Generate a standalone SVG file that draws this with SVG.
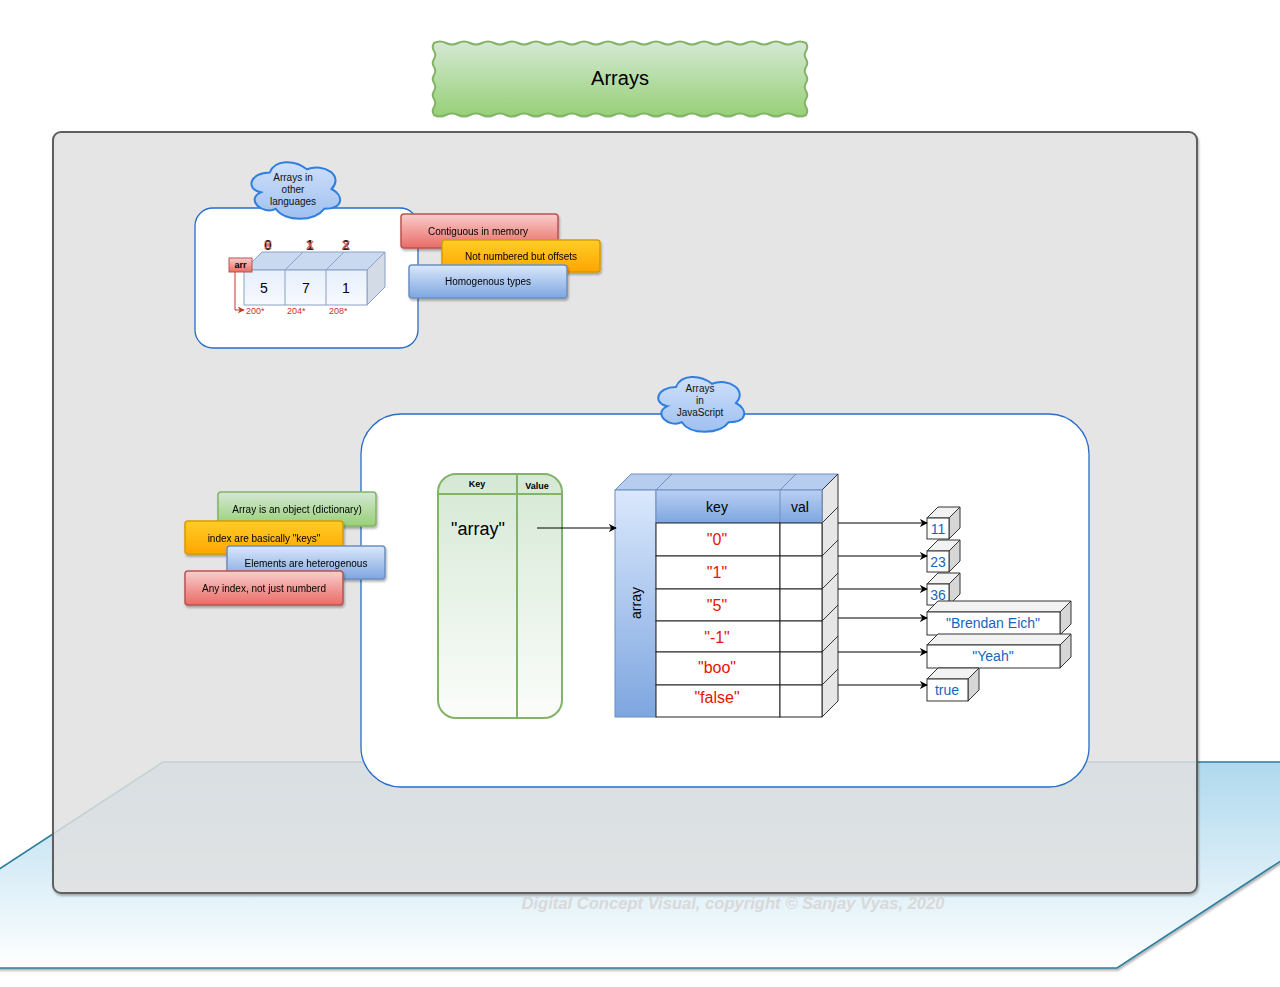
<svg xmlns="http://www.w3.org/2000/svg" xmlns:xlink="http://www.w3.org/1999/xlink" width="1280" height="987" viewBox="0 0 1280 987">
<style>
text{font-family:"Liberation Sans",Arial,sans-serif}
.lbl{font-size:10px;text-anchor:middle;fill:#000}
.cl{font-size:10px;text-anchor:middle;fill:#111}
.rk{font-size:16px;fill:#e51400;text-anchor:middle}
.bv{font-size:14px;fill:#1565c0;text-anchor:middle}
.off{font-size:9px;fill:#d0302c}
.row{fill:#fff;stroke:#222;stroke-width:1}
.vf{fill:#fff;stroke:#333;stroke-width:1}
.vt{fill:#f2f2f2;stroke:#333;stroke-width:1}
.vs{fill:#d6d6d6;stroke:#333;stroke-width:1}
.conn{stroke:#000;stroke-width:1;fill:none}
</style>
<defs>
<linearGradient id="gPar" x1="0" y1="0" x2="0" y2="1"><stop offset="0" stop-color="#aed9ee"/><stop offset="1" stop-color="#ffffff"/></linearGradient>
<linearGradient id="gGreen" x1="0" y1="0" x2="0" y2="1"><stop offset="0" stop-color="#d5e8d4"/><stop offset="1" stop-color="#97d077"/></linearGradient>
<linearGradient id="gGreenW" x1="0" y1="0" x2="0" y2="1"><stop offset="0" stop-color="#d5e8d4"/><stop offset="1" stop-color="#fbfdfb"/></linearGradient>
<linearGradient id="gRed" x1="0" y1="0" x2="0" y2="1"><stop offset="0" stop-color="#f8cecc"/><stop offset="1" stop-color="#ea6b66"/></linearGradient>
<linearGradient id="gOrange" x1="0" y1="0" x2="0" y2="1"><stop offset="0" stop-color="#ffcd28"/><stop offset="1" stop-color="#ffa500"/></linearGradient>
<linearGradient id="gBlue" x1="0" y1="0" x2="0" y2="1"><stop offset="0" stop-color="#dae8fc"/><stop offset="1" stop-color="#7ea6e0"/></linearGradient>
<linearGradient id="gCloud" x1="0" y1="0" x2="0" y2="1"><stop offset="0" stop-color="#cfe0fa"/><stop offset="1" stop-color="#9fc0f0"/></linearGradient>
<linearGradient id="gCube" x1="0" y1="0" x2="0" y2="1"><stop offset="0" stop-color="#e6effc"/><stop offset="1" stop-color="#f7faff"/></linearGradient>
<linearGradient id="gHead" x1="0" y1="0" x2="0" y2="1"><stop offset="0" stop-color="#b9cff2"/><stop offset="1" stop-color="#7ea6e0"/></linearGradient>
<filter id="sh" x="-10%" y="-10%" width="130%" height="140%"><feDropShadow dx="1" dy="2" stdDeviation="1.2" flood-color="#000" flood-opacity="0.3"/></filter>
<marker id="arB" viewBox="0 0 10 10" refX="9" refY="5" markerWidth="8" markerHeight="8" orient="auto" markerUnits="userSpaceOnUse"><path d="M0,0 L10,5 L0,10 L3,5 Z" fill="#000"/></marker>
<marker id="arR" viewBox="0 0 10 10" refX="9" refY="5" markerWidth="7" markerHeight="7" orient="auto" markerUnits="userSpaceOnUse"><path d="M0,0 L10,5 L0,10 L3,5 Z" fill="#c0392b"/></marker>
<path id="cloud" d="M0.25,0.25 C0.05,0.25 0,0.5 0.16,0.55 C0,0.66 0.18,0.9 0.31,0.8 C0.4,1 0.7,1 0.8,0.8 C1,0.8 1,0.6 0.875,0.5 C1,0.3 0.8,0.1 0.625,0.2 C0.5,0.05 0.3,0.05 0.25,0.25 Z" fill="url(#gCloud)" stroke="#2f7fe0" stroke-width="2" vector-effect="non-scaling-stroke"/>
</defs>

<!-- floor parallelogram -->
<g id="floor">
<polygon points="163,762 1432,762 1117,968 -152,968" fill="url(#gPar)" stroke="#2d7ea0" stroke-width="1.5" filter="url(#sh)"/>
</g>

<!-- main panel -->
<g id="panel">
<rect x="53" y="132" width="1144" height="761" rx="8" fill="#e6e6e6" fill-opacity="0.8" stroke="#5f5f5f" stroke-width="2" filter="url(#sh)"/>
</g>

<!-- title -->
<g id="title">
<path d="M434,43 q6,-3 12,0 t12,0 t12,0 t12,0 t12,0 t12,0 t12,0 t12,0 t12,0 t12,0 t12,0 t12,0 t12,0 t12,0 t12,0 t12,0 t12,0 t12,0 t12,0 t12,0 t12,0 t12,0 t12,0 t12,0 t12,0 t12,0 t12,0 t12,0 t12,0 t12,0 t12,0 q2.5,4 0,8 t0,8 t0,8 t0,8 t0,8 t0,8 t0,8 t0,8 t0,8 q-6,3 -12,0 t-12,0 t-12,0 t-12,0 t-12,0 t-12,0 t-12,0 t-12,0 t-12,0 t-12,0 t-12,0 t-12,0 t-12,0 t-12,0 t-12,0 t-12,0 t-12,0 t-12,0 t-12,0 t-12,0 t-12,0 t-12,0 t-12,0 t-12,0 t-12,0 t-12,0 t-12,0 t-12,0 t-12,0 t-12,0 t-12,0 q-2.5,-4 0,-8 t0,-8 t0,-8 t0,-8 t0,-8 t0,-8 t0,-8 t0,-8 t0,-8 Z" fill="url(#gGreen)" stroke="#82b366" stroke-width="2"/>
<text x="620" y="85" font-size="20" text-anchor="middle" style="fill:#000">Arrays</text>
</g>

<!-- other languages box -->
<g id="other-box">
<rect x="195" y="208" width="223" height="140" rx="18" fill="#fff" stroke="#2a6cc8" stroke-width="1.3"/>
</g>
<g id="cloud-other">
<use xlink:href="#cloud" href="#cloud" transform="translate(245,156) scale(99,66)"/>
<text class="cl" x="293" y="181">Arrays in</text>
<text class="cl" x="293" y="193">other</text>
<text class="cl" x="293" y="205">languages</text>
</g>

<!-- array cube -->
<g id="array-cube">
<polygon points="244,270 262,252 385,252 367,270" fill="#c9d9ef" stroke="#8aa0c4" stroke-width="1"/>
<polygon points="367,270 385,252 385,287 367,305" fill="#d3dbe7" stroke="#8aa0c4" stroke-width="1"/>
<rect x="244" y="270" width="123" height="35" fill="url(#gCube)" stroke="#8aa0c4" stroke-width="1"/>
<line x1="285" y1="270" x2="285" y2="305" stroke="#8aa0c4"/>
<line x1="326" y1="270" x2="326" y2="305" stroke="#8aa0c4"/>
<line x1="285" y1="270" x2="303" y2="252" stroke="#8aa0c4"/>
<line x1="326" y1="270" x2="344" y2="252" stroke="#8aa0c4"/>
<text x="264" y="293" font-size="14" text-anchor="middle" style="fill:#000">5</text>
<text x="306" y="293" font-size="14" text-anchor="middle" style="fill:#000">7</text>
<text x="346" y="293" font-size="14" text-anchor="middle" style="fill:#000">1</text>
<text x="268" y="250" font-size="14" font-weight="bold" text-anchor="middle" style="fill:#222">0</text>
<text x="310" y="250" font-size="14" font-weight="bold" text-anchor="middle" style="fill:#222">1</text>
<text x="346" y="250" font-size="14" font-weight="bold" text-anchor="middle" style="fill:#222">2</text>
<g stroke="#e0605a" stroke-width="1.6" opacity="0.85">
<line x1="265" y1="241" x2="271" y2="249"/><line x1="271" y1="241" x2="265" y2="249"/>
<line x1="307" y1="241" x2="313" y2="249"/><line x1="313" y1="241" x2="307" y2="249"/>
<line x1="343" y1="241" x2="349" y2="249"/><line x1="349" y1="241" x2="343" y2="249"/>
</g>
<text class="off" x="246" y="314">200*</text>
<text class="off" x="287" y="314">204*</text>
<text class="off" x="329" y="314">208*</text>
</g>
<g id="arr-label">
<rect x="229" y="258" width="23" height="14" fill="url(#gRed)" stroke="#b85450" stroke-width="1"/>
<text x="240.5" y="268" font-size="9" font-weight="bold" text-anchor="middle" style="fill:#000">arr</text>
</g>

<!-- labels top -->
<g id="lbl-contiguous" filter="url(#sh)">
<rect x="401" y="214" width="157" height="34" rx="3" fill="url(#gRed)" stroke="#b85450" stroke-width="1.5"/>
<text class="lbl" x="478" y="235">Contiguous in memory</text>
</g>
<g id="lbl-offsets" filter="url(#sh)">
<rect x="442" y="240" width="158" height="32" rx="3" fill="url(#gOrange)" stroke="#d79b00" stroke-width="1.5"/>
<text class="lbl" x="521" y="260">Not numbered but offsets</text>
</g>
<g id="lbl-homogenous" filter="url(#sh)">
<rect x="409" y="265" width="158" height="33" rx="3" fill="url(#gBlue)" stroke="#6c8ebf" stroke-width="1.5"/>
<text class="lbl" x="488" y="285">Homogenous types</text>
</g>

<!-- JS box -->
<g id="js-box">
<rect x="361" y="414" width="728" height="373" rx="40" fill="#fff" stroke="#2a6cc8" stroke-width="1.3"/>
</g>
<g id="cloud-js">
<use xlink:href="#cloud" href="#cloud" transform="translate(652,371) scale(96,64)"/>
<text class="cl" x="700" y="392">Arrays</text>
<text class="cl" x="700" y="404">in</text>
<text class="cl" x="700" y="416">JavaScript</text>
</g>

<!-- left labels -->
<g id="lbl-object" filter="url(#sh)">
<rect x="218" y="492" width="158" height="34" rx="3" fill="url(#gGreen)" stroke="#82b366" stroke-width="1.5"/>
<text class="lbl" x="297" y="513">Array is an object (dictionary)</text>
</g>
<g id="lbl-keys" filter="url(#sh)">
<rect x="185" y="521" width="158" height="33" rx="3" fill="url(#gOrange)" stroke="#d79b00" stroke-width="1.5"/>
<text class="lbl" x="264" y="542">index are basically "keys"</text>
</g>
<g id="lbl-hetero" filter="url(#sh)">
<rect x="227" y="546" width="158" height="33" rx="3" fill="url(#gBlue)" stroke="#6c8ebf" stroke-width="1.5"/>
<text class="lbl" x="306" y="567">Elements are heterogenous</text>
</g>
<g id="lbl-anyindex" filter="url(#sh)">
<rect x="185" y="571" width="158" height="34" rx="3" fill="url(#gRed)" stroke="#b85450" stroke-width="1.5"/>
<text class="lbl" x="264" y="592">Any index, not just numberd</text>
</g>

<!-- key/value table -->
<g id="kv-table">
<rect x="438" y="474" width="124" height="244" rx="18" fill="url(#gGreenW)" stroke="#82b366" stroke-width="2"/>
<line x1="438" y1="494" x2="562" y2="494" stroke="#82b366" stroke-width="2"/>
<line x1="517" y1="474" x2="517" y2="718" stroke="#82b366" stroke-width="2"/>
<text x="477" y="487" font-size="9" font-weight="bold" text-anchor="middle" style="fill:#000">Key</text>
<text x="537" y="489" font-size="9" font-weight="bold" text-anchor="middle" style="fill:#000">Value</text>
<text x="478" y="535" font-size="18" text-anchor="middle" style="fill:#000">"array"</text>
</g>

<!-- JS array table -->
<g id="js-array">
<polygon points="615,490 631,474 838,474 822,490" fill="#b7cdef" stroke="#6c8ebf" stroke-width="1"/>
<line x1="656" y1="490" x2="672" y2="474" stroke="#6c8ebf"/>
<line x1="780" y1="490" x2="796" y2="474" stroke="#6c8ebf"/>
<polygon points="822,490 838,474 838,701 822,717" fill="#e6e6e6" stroke="#333" stroke-width="1"/>
<g stroke="#333" stroke-width="1">
<line x1="822" y1="523" x2="838" y2="507"/>
<line x1="822" y1="556" x2="838" y2="540"/>
<line x1="822" y1="589" x2="838" y2="573"/>
<line x1="822" y1="621" x2="838" y2="605"/>
<line x1="822" y1="652" x2="838" y2="636"/>
<line x1="822" y1="685" x2="838" y2="669"/>
</g>
<rect x="615" y="490" width="41" height="227" fill="url(#gBlue)" stroke="#6c8ebf" stroke-width="1"/>
<text x="641" y="603" font-size="14" text-anchor="middle" transform="rotate(-90 641 603)" style="fill:#000">array</text>
<rect x="656" y="490" width="166" height="33" fill="url(#gHead)" stroke="#6c8ebf" stroke-width="1"/>
<line x1="780" y1="490" x2="780" y2="523" stroke="#6c8ebf"/>
<text x="717" y="512" font-size="14" text-anchor="middle" style="fill:#000">key</text>
<text x="800" y="512" font-size="14" text-anchor="middle" style="fill:#000">val</text>
<rect class="row" x="656" y="523" width="124" height="33"/><rect class="row" x="780" y="523" width="42" height="33"/>
<rect class="row" x="656" y="556" width="124" height="33"/><rect class="row" x="780" y="556" width="42" height="33"/>
<rect class="row" x="656" y="589" width="124" height="32"/><rect class="row" x="780" y="589" width="42" height="32"/>
<rect class="row" x="656" y="621" width="124" height="31"/><rect class="row" x="780" y="621" width="42" height="31"/>
<rect class="row" x="656" y="652" width="124" height="33"/><rect class="row" x="780" y="652" width="42" height="33"/>
<rect class="row" x="656" y="685" width="124" height="32"/><rect class="row" x="780" y="685" width="42" height="32"/>
<text class="rk" x="717" y="545">"0"</text>
<text class="rk" x="717" y="578">"1"</text>
<text class="rk" x="717" y="611">"5"</text>
<text class="rk" x="717" y="643">"-1"</text>
<text class="rk" x="717" y="673" font-size="14">"boo"</text>
<text class="rk" x="717" y="703" font-size="18">"false"</text>
</g>

<!-- value boxes -->
<g id="val-11">
<polygon class="vt" points="927,518 938,507 960,507 949,518"/><polygon class="vs" points="949,518 960,507 960,528 949,539"/>
<rect class="vf" x="927" y="518" width="22" height="21"/><text class="bv" x="938" y="534">11</text>
</g>
<g id="val-23">
<polygon class="vt" points="927,551 938,540 960,540 949,551"/><polygon class="vs" points="949,551 960,540 960,561 949,572"/>
<rect class="vf" x="927" y="551" width="22" height="21"/><text class="bv" x="938" y="567">23</text>
</g>
<g id="val-36">
<polygon class="vt" points="927,584 938,573 960,573 949,584"/><polygon class="vs" points="949,584 960,573 960,594 949,605"/>
<rect class="vf" x="927" y="584" width="22" height="21"/><text class="bv" x="938" y="600">36</text>
</g>
<g id="val-brendan">
<polygon class="vt" points="927,612 938,601 1071,601 1060,612"/><polygon class="vs" points="1060,612 1071,601 1071,624 1060,635"/>
<rect class="vf" x="927" y="612" width="133" height="23"/><text class="bv" x="993" y="628">"Brendan Eich"</text>
</g>
<g id="val-yeah">
<polygon class="vt" points="927,645 938,634 1071,634 1060,645"/><polygon class="vs" points="1060,645 1071,634 1071,657 1060,668"/>
<rect class="vf" x="927" y="645" width="133" height="23"/><text class="bv" x="993" y="661">"Yeah"</text>
</g>
<g id="val-true">
<polygon class="vt" points="927,679 938,668 979,668 968,679"/><polygon class="vs" points="968,679 979,668 979,690 968,701"/>
<rect class="vf" x="927" y="679" width="41" height="22"/><text class="bv" x="947" y="695">true</text>
</g>

<!-- connectors -->
<g id="connectors">
<path d="M235,272 L235,310 L244,310" fill="none" stroke="#c0392b" stroke-width="1" marker-end="url(#arR)"/>
<line class="conn" x1="537" y1="528" x2="616" y2="528" marker-end="url(#arB)"/>
<line class="conn" x1="838" y1="523" x2="927" y2="523" marker-end="url(#arB)"/>
<line class="conn" x1="838" y1="556" x2="927" y2="556" marker-end="url(#arB)"/>
<line class="conn" x1="838" y1="589" x2="927" y2="589" marker-end="url(#arB)"/>
<line class="conn" x1="838" y1="618" x2="927" y2="618" marker-end="url(#arB)"/>
<line class="conn" x1="838" y1="652" x2="927" y2="652" marker-end="url(#arB)"/>
<line class="conn" x1="838" y1="685" x2="927" y2="685" marker-end="url(#arB)"/>
</g>

<!-- watermark -->
<g id="watermark">
<text x="733" y="909" font-size="16" font-style="italic" font-weight="bold" text-anchor="middle" style="fill:#d9d9d9" textLength="423" lengthAdjust="spacingAndGlyphs">Digital Concept Visual, copyright © Sanjay Vyas, 2020</text>
</g>
</svg>
